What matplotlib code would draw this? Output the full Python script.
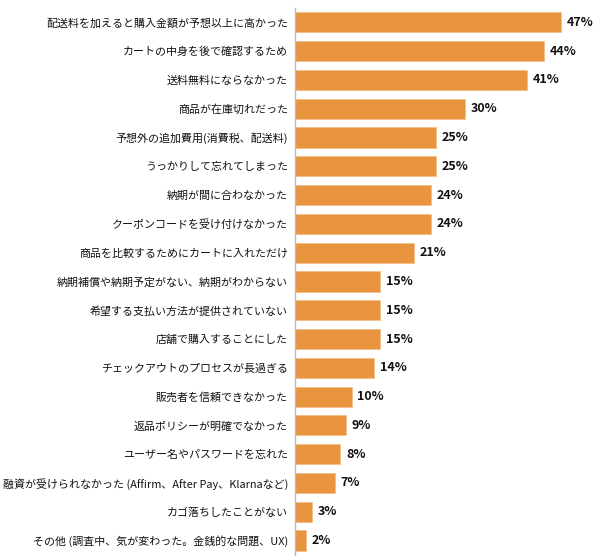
import matplotlib
matplotlib.use("Agg")
import matplotlib.pyplot as plt

plt.rcParams['font.family'] = ['Noto Sans CJK JP', 'DejaVu Sans']

reasons = [
    '配送料を加えると購入金額が予想以上に高かった',
    'カートの中身を後で確認するため',
    '送料無料にならなかった',
    '商品が在庫切れだった',
    '予想外の追加費用(消費税、配送料)',
    'うっかりして忘れてしまった',
    '納期が間に合わなかった',
    'クーポンコードを受け付けなかった',
    '商品を比較するためにカートに入れただけ',
    '納期補償や納期予定がない、納期がわからない',
    '希望する支払い方法が提供されていない',
    '店舗で購入することにした',
    'チェックアウトのプロセスが長過ぎる',
    '販売者を信頼できなかった',
    '返品ポリシーが明確でなかった',
    'ユーザー名やパスワードを忘れた',
    '融資が受けられなかった (Affirm、After Pay、Klarnaなど)',
    'カゴ落ちしたことがない',
    'その他 (調査中、気が変わった。金銭的な問題、UX)',
]
percents = [47, 44, 41, 30, 25, 25, 24, 24, 21, 15, 15, 15, 14, 10, 9, 8, 7, 3, 2]

fig = plt.figure(figsize=(6, 5.6), dpi=100)
ax = fig.add_axes([0.4917, 0.009, 0.4883, 0.9768])

ypos = list(range(len(reasons)))
ax.barh(ypos, percents, height=0.7, color='#E99540', edgecolor='#F2BE8A', linewidth=0.6)

for y, v in zip(ypos, percents):
    ax.text(v + 1.0, y, f'{v}%', va='center', ha='left', fontsize=9,
            fontweight='bold', color='#111111')

ax.set_yticks(ypos)
ax.set_yticklabels(reasons, fontsize=7.9, color='#111111')
ax.tick_params(axis='y', length=0, pad=5)
ax.set_ylim(len(reasons) - 0.5, -0.5)
ax.set_xlim(0, 51.8)
ax.set_xticks([])

# shrink any label that would run past the left edge
fig.canvas.draw()
renderer = fig.canvas.get_renderer()
for lab in ax.get_yticklabels():
    bb = lab.get_window_extent(renderer)
    if bb.x0 < 3:
        room = bb.x1 - 3
        lab.set_fontsize(lab.get_fontsize() * room / bb.width)

for side in ['top', 'right', 'bottom']:
    ax.spines[side].set_visible(False)
ax.spines['left'].set_color('#BBBBBB')
ax.spines['left'].set_linewidth(1)

fig.savefig('out.png', dpi=100)
